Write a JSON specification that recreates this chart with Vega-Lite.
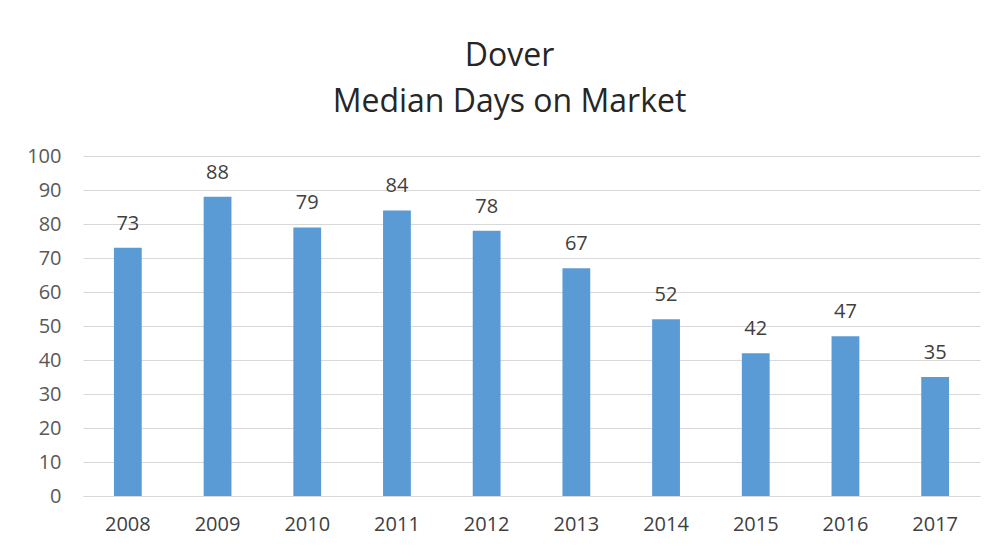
{
  "$schema": "https://vega.github.io/schema/vega-lite/v6.json",
  "width": 897,
  "height": 340,
  "autosize": {"type": "none"},
  "padding": {"left": 83, "top": 156, "right": 19, "bottom": 59},
  "background": "white",
  "config": {"view": {"stroke": null}, "font": "Open Sans"},
  "title": {
    "text": ["Dover", "Median Days on Market"],
    "anchor": "middle",
    "frame": "group",
    "dx": -22,
    "offset": 27,
    "fontSize": 32,
    "fontWeight": "normal",
    "font": "Open Sans",
    "color": "#262626",
    "lineHeight": 46
  },
  "data": {
    "values": [
      {"year": "2008", "days": 73},
      {"year": "2009", "days": 88},
      {"year": "2010", "days": 79},
      {"year": "2011", "days": 84},
      {"year": "2012", "days": 78},
      {"year": "2013", "days": 67},
      {"year": "2014", "days": 52},
      {"year": "2015", "days": 42},
      {"year": "2016", "days": 47},
      {"year": "2017", "days": 35}
    ]
  },
  "encoding": {
    "x": {
      "field": "year",
      "type": "ordinal",
      "scale": {"paddingInner": 0.69, "paddingOuter": 0.345},
      "axis": {
        "title": null,
        "labelAngle": 0,
        "ticks": false,
        "domainColor": "#D9D9D9",
        "labelFontSize": 20,
        "labelColor": "#404040",
        "labelPadding": 18
      }
    },
    "y": {
      "field": "days",
      "type": "quantitative",
      "scale": {"domain": [0, 100]},
      "axis": {
        "title": null,
        "values": [0, 10, 20, 30, 40, 50, 60, 70, 80, 90, 100],
        "ticks": false,
        "domain": false,
        "gridColor": "#D9D9D9",
        "labelFontSize": 20,
        "labelColor": "#595959",
        "labelPadding": 22
      }
    }
  },
  "layer": [
    {"mark": {"type": "bar", "color": "#5B9BD5"}},
    {
      "mark": {"type": "text", "baseline": "alphabetic", "dy": -18, "fontSize": 20, "color": "#404040"},
      "encoding": {"text": {"field": "days", "type": "quantitative"}}
    }
  ]
}
